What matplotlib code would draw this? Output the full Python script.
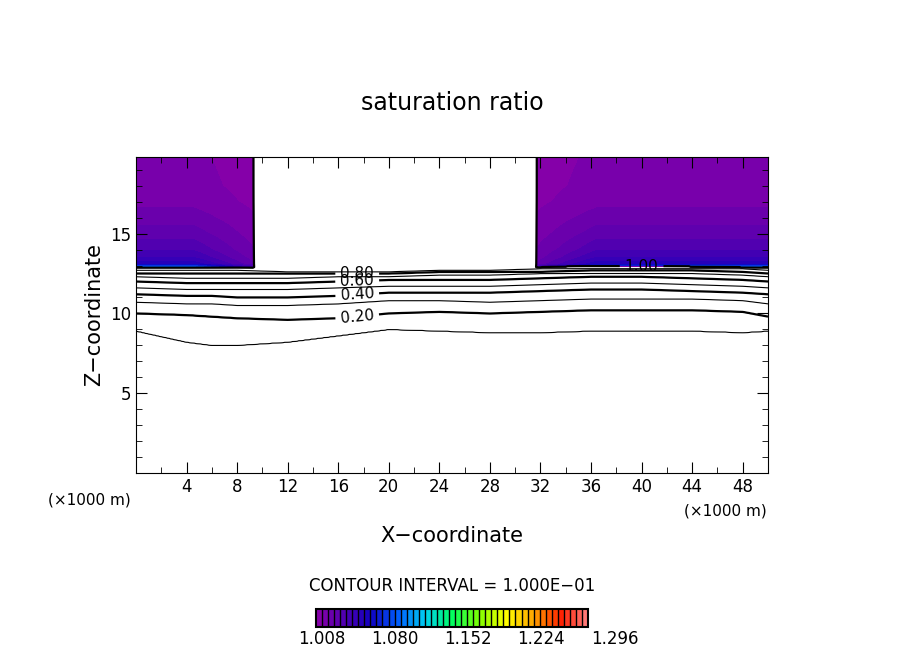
import numpy as np
import matplotlib
matplotlib.use("Agg")
import matplotlib.pyplot as plt
from matplotlib.colors import LinearSegmentedColormap

# contour levels of saturation ratio below cloud base
levels = [0.1, 0.2, 0.3, 0.4, 0.5, 0.6, 0.7, 0.8, 0.9, 1.0]
# x positions (km) where the line heights were read
x_nodes = [0, 4, 6, 8, 12, 16, 20, 24, 28, 32, 36, 40, 44, 48, 50]
# height (km) of each contour level at x_nodes
z_lines = [
    [8.9, 8.2, 8.0, 8.0, 8.2, 8.6, 9.0, 8.9, 8.8, 8.8, 8.9, 8.9, 8.9, 8.8, 8.9],
    [10.0, 9.9, 9.8, 9.7, 9.6, 9.7, 10.0, 10.1, 10.0, 10.1, 10.2, 10.2, 10.2, 10.1, 9.8],
    [10.7, 10.6, 10.6, 10.5, 10.5, 10.6, 10.8, 10.8, 10.7, 10.8, 10.9, 10.9, 10.9, 10.8, 10.6],
    [11.2, 11.1, 11.1, 11.0, 11.0, 11.1, 11.3, 11.3, 11.3, 11.4, 11.5, 11.5, 11.4, 11.3, 11.2],
    [11.6, 11.5, 11.5, 11.5, 11.5, 11.6, 11.7, 11.7, 11.7, 11.8, 11.9, 11.9, 11.8, 11.7, 11.6],
    [12.0, 11.9, 11.9, 11.9, 11.9, 12.0, 12.1, 12.1, 12.1, 12.2, 12.3, 12.3, 12.2, 12.1, 12.0],
    [12.3, 12.2, 12.2, 12.2, 12.2, 12.3, 12.3, 12.4, 12.4, 12.5, 12.5, 12.5, 12.5, 12.4, 12.3],
    [12.5, 12.5, 12.5, 12.5, 12.5, 12.5, 12.5, 12.6, 12.6, 12.6, 12.7, 12.7, 12.7, 12.6, 12.5],
    [12.7, 12.7, 12.7, 12.7, 12.6, 12.6, 12.6, 12.7, 12.7, 12.8, 12.8, 12.8, 12.8, 12.8, 12.7],
    [12.9, 12.9, 12.9, 12.9, 12.8, 12.8, 12.8, 12.8, 12.8, 12.9, 13.0, 13.0, 12.95, 12.9, 12.9],
]
# cloud columns (supersaturated above base)
cloud_x = [(0.0, 9.3), (31.7, 50.0)]
# supersaturation profile above cloud base, in the cloud core
z_sup = [12.9, 13.1, 13.5, 14.0, 15.0, 16.0, 17.0, 18.0, 19.8]
s_sup = [1.08, 1.045, 1.035, 1.028, 1.020, 1.014, 1.009, 1.007, 1.006]
cb_ticks = [1.008, 1.080, 1.152, 1.224, 1.296]
cb_lo, cb_hi = 1.002, 1.270

xg = np.linspace(0, 50, 401)
zg = np.linspace(0, 19.8, 400)
S = np.zeros((len(zg), len(xg)))
zl = np.array(z_lines)
for j, xv in enumerate(xg):
    h = np.array([np.interp(xv, x_nodes, row) for row in zl])
    col = np.interp(zg, np.concatenate([[0], h]), np.concatenate([[0.0], levels]))
    above = zg > h[-1]
    seg = [(a, b) for a, b in cloud_x if a <= xv <= b]
    if seg:
        a, b = seg[0]
        d = min(xv - a if a > 0 else 99, b - xv if b < 50 else 99)
        f = min(1.0, 0.4 + d / 8.0)
        col[above] = 1.003 + (np.interp(zg[above], z_sup, s_sup) - 1.0) * f
    else:
        col[above] = 0.99
    S[:, j] = col

colors = ["#8a00a8", "#5000b0", "#1000c0", "#0060ff", "#00d0f0", "#00ff60",
          "#80ff00", "#ffff00", "#ffa000", "#ff2000", "#ff8080"]
cmap = LinearSegmentedColormap.from_list("sat", colors)
fill_levels = np.linspace(cb_lo, cb_hi, 46)

fig = plt.figure(figsize=(9.04, 6.54), dpi=100)
ax = fig.add_axes([136 / 904, (654 - 473) / 654, 632 / 904, 316 / 654])
cf = ax.contourf(xg, zg, S, levels=fill_levels, cmap=cmap)
thin = [l for l in levels if round(l * 10) % 2]
thick = [l for l in levels if not round(l * 10) % 2]
ax.contour(xg, zg, S, levels=thin, colors="k", linewidths=0.8)
cs = ax.contour(xg, zg, S, levels=thick, colors="k", linewidths=1.6)
ax.clabel(cs, fmt="%.2f", fontsize=11,
          manual=[(17.5, 9.8), (17.5, 11.2), (17.5, 12.0), (17.5, 12.6), (40, 13.0)])

ax.set_xlim(0, 50)
ax.set_ylim(0, 19.8)
ax.set_xticks(np.arange(4, 49, 4))
ax.set_yticks([5, 10, 15])
ax.set_xticks(np.arange(2, 50, 2), minor=True)
ax.set_yticks(np.arange(1, 20, 1), minor=True)
ax.tick_params(which="both", direction="in", top=True, right=True, labelsize=12)
ax.tick_params(which="major", length=8)
ax.tick_params(which="minor", length=4)
ax.set_xlabel("X\u2212coordinate", fontsize=15, labelpad=22)
ax.set_ylabel("Z\u2212coordinate", fontsize=15)
ax.set_title("saturation ratio", fontsize=17, pad=34)
fig.text(48 / 904, 1 - 500 / 654, "(\u00d71000 m)", fontsize=11, va="center")
fig.text(684 / 904, 1 - 511 / 654, "(\u00d71000 m)", fontsize=11, va="center")
fig.text(452 / 904, 1 - 586 / 654, "CONTOUR INTERVAL = 1.000E\u221201", fontsize=12,
         ha="center", va="center")

cax = fig.add_axes([316 / 904, (654 - 627) / 654, 272 / 904, 18 / 654])
cb = fig.colorbar(cf, cax=cax, orientation="horizontal", drawedges=True)
cb.outline.set_linewidth(1.5)
cb.dividers.set_linewidth(1.0)
cb.set_ticks([])
for v in cb_ticks:
    cax.text((v - cb_lo) / (cb_hi - cb_lo), -0.15, "%.3f" % v, transform=cax.transAxes,
             ha="center", va="top", fontsize=12, clip_on=False)

fig.savefig("out.png", dpi=100)
